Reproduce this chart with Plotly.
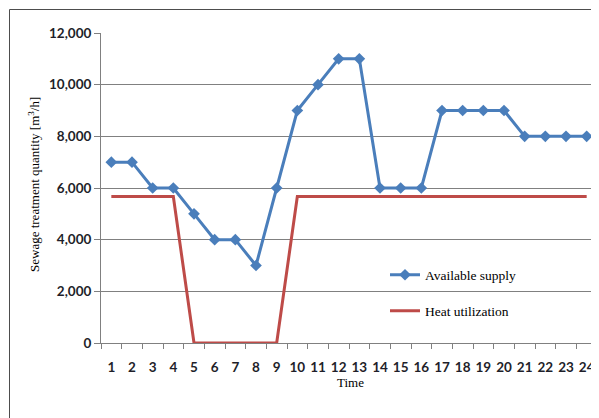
import plotly.graph_objects as go

time = list(range(1, 25))
available_supply = [7000, 7000, 6000, 6000, 5000, 4000, 4000, 3000, 6000, 9000, 10000, 11000,
                    11000, 6000, 6000, 6000, 9000, 9000, 9000, 9000, 8000, 8000, 8000, 8000]
heat_utilization = [5670, 5670, 5670, 5670, 0, 0, 0, 0, 0, 5670, 5670, 5670,
                    5670, 5670, 5670, 5670, 5670, 5670, 5670, 5670, 5670, 5670, 5670, 5670]
y_ticks = [0, 2000, 4000, 6000, 8000, 10000, 12000]

# page body has an 8px margin; work in page pixels and convert
OFF = 8
W, H = 599 - OFF, 418 - OFF
L, R, T, B = 101 - OFF, 2, 33 - OFF, 75
pw, ph = W - L - R, H - T - B

def px(x):
    return (x - OFF - L) / pw

def py(y):
    return (H - B - (y - OFF)) / ph

fig = go.Figure()
fig.add_trace(go.Scatter(
    x=time, y=available_supply, name="Available supply", mode="lines+markers",
    line=dict(color="#4A7EBB", width=3),
    marker=dict(symbol="diamond", size=9, color="#4A7EBB"),
    legend="legend"))
fig.add_trace(go.Scatter(
    x=time, y=heat_utilization, name="Heat utilization", mode="lines",
    line=dict(color="#BE4B48", width=3),
    legend="legend2"))

grid = "#808080"
tickfont = dict(family="Lato", size=13.5, color="#1f1f2a", weight="bold")
serif_leg = dict(family="Liberation Serif", size=13.5, color="#000000")
serif = dict(family="Liberation Serif", size=13, color="#000000")

fig.update_layout(
    width=W, height=H,
    margin=dict(l=L, r=R, t=T, b=B),
    paper_bgcolor="white", plot_bgcolor="white",
    xaxis=dict(range=[0.5, 24.5], tickvals=time, ticks="outside", ticklen=12,
               tickcolor="rgba(0,0,0,0)", tickfont=tickfont,
               showgrid=False, zeroline=False, showline=True, linecolor=grid, linewidth=1,
               minor=dict(tick0=0.5, dtick=1, ticks="outside", ticklen=5, tickcolor=grid,
                          showgrid=False)),
    yaxis=dict(range=[0, 12000], tickvals=y_ticks, tickformat=",d", ticks="outside",
               ticklen=6, tickcolor=grid, tickfont=tickfont,
               showgrid=True, gridcolor=grid, gridwidth=1, zeroline=False,
               showline=True, linecolor=grid, linewidth=1),
    legend=dict(x=px(385), y=py(275), xanchor="left", yanchor="middle",
                bgcolor="rgba(0,0,0,0)", font=serif_leg),
    legend2=dict(x=px(385), y=py(311), xanchor="left", yanchor="middle",
                 bgcolor="rgba(0,0,0,0)", font=serif_leg),
    showlegend=True,
    annotations=[
        dict(text="Sewage treatment quantity [m<sup>3</sup>/h]", textangle=-90,
             xref="paper", yref="paper", x=px(34), y=py(185), xanchor="center", yanchor="middle",
             showarrow=False, font=serif),
        dict(text="Time", xref="paper", yref="paper", x=px(350), y=py(383),
             xanchor="center", yanchor="middle", showarrow=False, font=serif),
    ],
    shapes=[dict(type="rect", xref="paper", yref="paper",
                 x0=px(9.5), x1=px(640), y0=py(500), y1=py(9.5),
                 line=dict(color="#4d4d4d", width=1), layer="below")],
)

fig.write_html("out.html")
